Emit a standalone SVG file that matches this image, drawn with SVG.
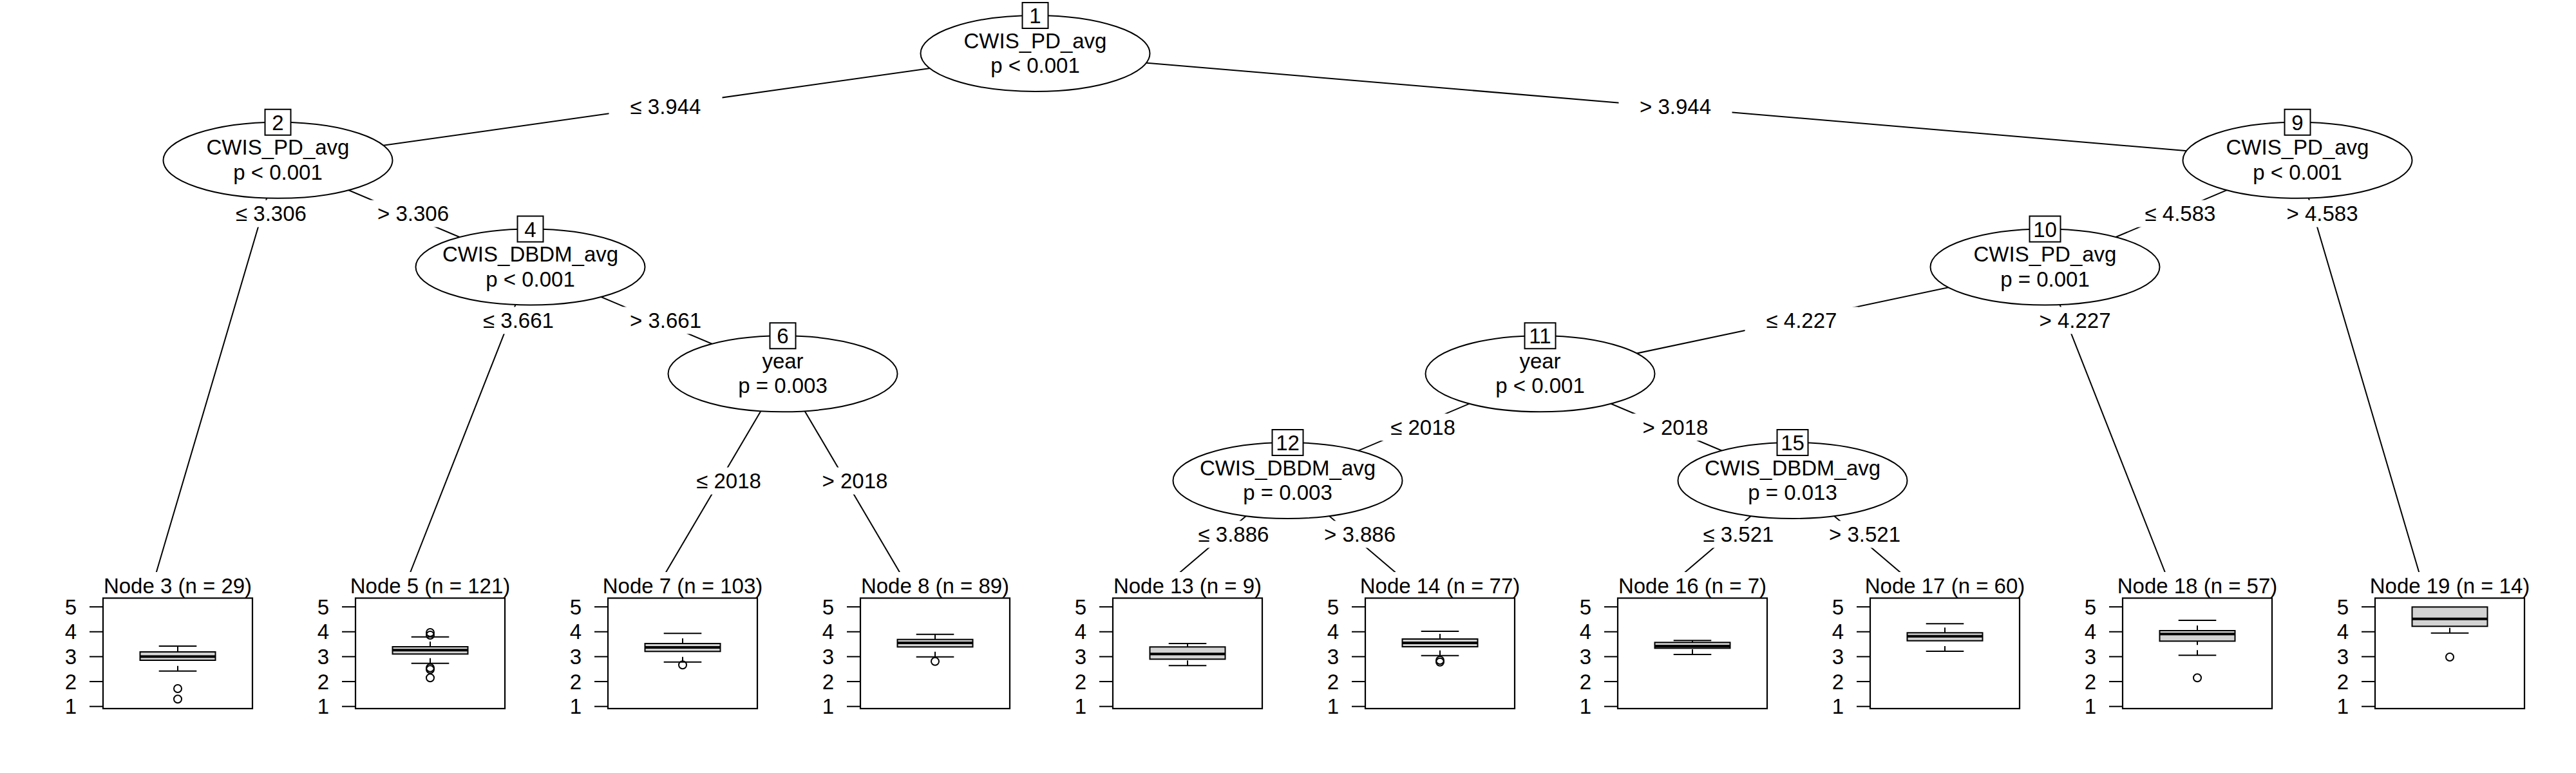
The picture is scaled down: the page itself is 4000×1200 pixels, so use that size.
<svg xmlns="http://www.w3.org/2000/svg" width="4000" height="1200" viewBox="0 0 4000 1200">
<style>
text{font-family:"Liberation Sans",Arial,Helvetica,sans-serif;font-size:33px;fill:#000}
.c{text-anchor:middle}
.r{text-anchor:end}
.edge{stroke:#000;stroke-width:2;fill:none}
.lab{fill:#fff;stroke:none}
.ell{fill:#fff;stroke:#000;stroke-width:2}
.idb{fill:#fff;stroke:#000;stroke-width:2}
.strip{fill:#fff;stroke:none}
.panel{fill:none;stroke:#000;stroke-width:2.2}
.tick{stroke:#000;stroke-width:2}
.wh{stroke:#000;stroke-width:2;stroke-dasharray:8 8}
.cap{stroke:#000;stroke-width:2}
.box{fill:#d3d3d3;stroke:#000;stroke-width:2}
.med{stroke:#000;stroke-width:4}
.out{fill:none;stroke:#000;stroke-width:2}
</style>
<rect x="0" y="0" width="4000" height="1200" fill="#fff"/>
<g id="connectors">
<line class="edge" x1="1607.5" y1="83" x2="431.5" y2="248.75"/>
<line class="edge" x1="1607.5" y1="83" x2="3567.5" y2="248.75"/>
<line class="edge" x1="431.5" y1="248.75" x2="235.5" y2="913"/>
<line class="edge" x1="431.5" y1="248.75" x2="823.5" y2="414.5"/>
<line class="edge" x1="823.5" y1="414.5" x2="627.5" y2="913"/>
<line class="edge" x1="823.5" y1="414.5" x2="1215.5" y2="580.25"/>
<line class="edge" x1="1215.5" y1="580.25" x2="1019.5" y2="913"/>
<line class="edge" x1="1215.5" y1="580.25" x2="1411.5" y2="913"/>
<line class="edge" x1="3567.5" y1="248.75" x2="3175.5" y2="414.5"/>
<line class="edge" x1="3567.5" y1="248.75" x2="3763.5" y2="913"/>
<line class="edge" x1="3175.5" y1="414.5" x2="2391.5" y2="580.25"/>
<line class="edge" x1="3175.5" y1="414.5" x2="3371.5" y2="913"/>
<line class="edge" x1="2391.5" y1="580.25" x2="1999.5" y2="746"/>
<line class="edge" x1="2391.5" y1="580.25" x2="2783.5" y2="746"/>
<line class="edge" x1="1999.5" y1="746" x2="1803.5" y2="913"/>
<line class="edge" x1="1999.5" y1="746" x2="2195.5" y2="913"/>
<line class="edge" x1="2783.5" y1="746" x2="2587.5" y2="913"/>
<line class="edge" x1="2783.5" y1="746" x2="2979.5" y2="913"/>
<g id="edge-labels">
<rect class="lab" x="945.5" y="145" width="176" height="42"/><text class="c" x="1033.5" y="177.4">≤ 3.944</text>
<rect class="lab" x="2513.5" y="145" width="176" height="42"/><text class="c" x="2601.5" y="177.4">&gt; 3.944</text>
<rect class="lab" x="333" y="310.6" width="176" height="42"/><text class="c" x="421" y="343.1">≤ 3.306</text>
<rect class="lab" x="553.5" y="310.6" width="176" height="42"/><text class="c" x="641.5" y="343.1">&gt; 3.306</text>
<rect class="lab" x="717" y="476.4" width="176" height="42"/><text class="c" x="805" y="508.9">≤ 3.661</text>
<rect class="lab" x="945.5" y="476.4" width="176" height="42"/><text class="c" x="1033.5" y="508.9">&gt; 3.661</text>
<rect class="lab" x="1047.5" y="725.6" width="168" height="42"/><text class="c" x="1131.5" y="758.1">≤ 2018</text>
<rect class="lab" x="1243.5" y="725.6" width="168" height="42"/><text class="c" x="1327.5" y="758.1">&gt; 2018</text>
<rect class="lab" x="3297.5" y="310.6" width="176" height="42"/><text class="c" x="3385.5" y="343.1">≤ 4.583</text>
<rect class="lab" x="3518" y="310.6" width="176" height="42"/><text class="c" x="3606" y="343.1">&gt; 4.583</text>
<rect class="lab" x="2709.5" y="476.4" width="176" height="42"/><text class="c" x="2797.5" y="508.9">≤ 4.227</text>
<rect class="lab" x="3134" y="476.4" width="176" height="42"/><text class="c" x="3222" y="508.9">&gt; 4.227</text>
<rect class="lab" x="2125.5" y="642.1" width="168" height="42"/><text class="c" x="2209.5" y="674.6">≤ 2018</text>
<rect class="lab" x="2517.5" y="642.1" width="168" height="42"/><text class="c" x="2601.5" y="674.6">&gt; 2018</text>
<rect class="lab" x="1827.5" y="808.5" width="176" height="42"/><text class="c" x="1915.5" y="841">≤ 3.886</text>
<rect class="lab" x="2023.5" y="808.5" width="176" height="42"/><text class="c" x="2111.5" y="841">&gt; 3.886</text>
<rect class="lab" x="2611.5" y="808.5" width="176" height="42"/><text class="c" x="2699.5" y="841">≤ 3.521</text>
<rect class="lab" x="2807.5" y="808.5" width="176" height="42"/><text class="c" x="2895.5" y="841">&gt; 3.521</text>
</g>
</g>
<g id="node1"><ellipse class="ell" cx="1607.5" cy="83" rx="178" ry="59"/><rect class="idb" x="1587.5" y="4" width="40" height="40"/><text class="c" x="1607.5" y="36">1</text><text class="c" x="1607.5" y="74.5">CWIS_PD_avg</text><text class="c" x="1607.5" y="113">p &lt; 0.001</text></g>
<g id="node2"><ellipse class="ell" cx="431.5" cy="248.75" rx="178" ry="59"/><rect class="idb" x="411.5" y="169.75" width="40" height="40"/><text class="c" x="431.5" y="201.75">2</text><text class="c" x="431.5" y="240.25">CWIS_PD_avg</text><text class="c" x="431.5" y="278.75">p &lt; 0.001</text></g>
<g id="node4"><ellipse class="ell" cx="823.5" cy="414.5" rx="178" ry="59"/><rect class="idb" x="803.5" y="335.5" width="40" height="40"/><text class="c" x="823.5" y="367.5">4</text><text class="c" x="823.5" y="406">CWIS_DBDM_avg</text><text class="c" x="823.5" y="444.5">p &lt; 0.001</text></g>
<g id="node6"><ellipse class="ell" cx="1215.5" cy="580.25" rx="178" ry="59"/><rect class="idb" x="1195.5" y="501.25" width="40" height="40"/><text class="c" x="1215.5" y="533.25">6</text><text class="c" x="1215.5" y="571.75">year</text><text class="c" x="1215.5" y="610.25">p = 0.003</text></g>
<g id="node9"><ellipse class="ell" cx="3567.5" cy="248.75" rx="178" ry="59"/><rect class="idb" x="3547.5" y="169.75" width="40" height="40"/><text class="c" x="3567.5" y="201.75">9</text><text class="c" x="3567.5" y="240.25">CWIS_PD_avg</text><text class="c" x="3567.5" y="278.75">p &lt; 0.001</text></g>
<g id="node10"><ellipse class="ell" cx="3175.5" cy="414.5" rx="178" ry="59"/><rect class="idb" x="3151.5" y="335.5" width="48" height="40"/><text class="c" x="3175.5" y="367.5">10</text><text class="c" x="3175.5" y="406">CWIS_PD_avg</text><text class="c" x="3175.5" y="444.5">p = 0.001</text></g>
<g id="node11"><ellipse class="ell" cx="2391.5" cy="580.25" rx="178" ry="59"/><rect class="idb" x="2367.5" y="501.25" width="48" height="40"/><text class="c" x="2391.5" y="533.25">11</text><text class="c" x="2391.5" y="571.75">year</text><text class="c" x="2391.5" y="610.25">p &lt; 0.001</text></g>
<g id="node12"><ellipse class="ell" cx="1999.5" cy="746" rx="178" ry="59"/><rect class="idb" x="1975.5" y="667" width="48" height="40"/><text class="c" x="1999.5" y="699">12</text><text class="c" x="1999.5" y="737.5">CWIS_DBDM_avg</text><text class="c" x="1999.5" y="776">p = 0.003</text></g>
<g id="node15"><ellipse class="ell" cx="2783.5" cy="746" rx="178" ry="59"/><rect class="idb" x="2759.5" y="667" width="48" height="40"/><text class="c" x="2783.5" y="699">15</text><text class="c" x="2783.5" y="737.5">CWIS_DBDM_avg</text><text class="c" x="2783.5" y="776">p = 0.013</text></g>

<g id="node3">
<rect class="strip" x="150" y="888" width="252" height="40"/>
<text class="c" x="276" y="920.7">Node 3 (n = 29)</text>
<line class="tick" x1="139" y1="1096.7" x2="160" y2="1096.7"/><line class="tick" x1="139" y1="1058.05" x2="160" y2="1058.05"/><line class="tick" x1="139" y1="1019.4" x2="160" y2="1019.4"/><line class="tick" x1="139" y1="980.75" x2="160" y2="980.75"/><line class="tick" x1="139" y1="942.1" x2="160" y2="942.1"/>
<text class="r" x="119" y="1108.4">1</text><text class="r" x="119" y="1069.75">2</text><text class="r" x="119" y="1031.1">3</text><text class="r" x="119" y="992.45">4</text><text class="r" x="119" y="953.8">5</text>
<rect class="panel" x="160" y="928.5" width="232" height="171.5"/>
<line class="wh" x1="276" y1="1012" x2="276" y2="1003"/><line class="wh" x1="276" y1="1041.7" x2="276" y2="1025"/>
<line class="cap" x1="246.7" y1="1003" x2="305.3" y2="1003"/><line class="cap" x1="246.7" y1="1041.7" x2="305.3" y2="1041.7"/>
<rect class="box" x="217.5" y="1012" width="117" height="13"/>
<line class="med" x1="217.5" y1="1019.3" x2="334.5" y2="1019.3"/>
<circle class="out" cx="276" cy="1069" r="6"/><circle class="out" cx="276" cy="1085.3" r="6"/>
</g>

<g id="node5">
<rect class="strip" x="542" y="888" width="252" height="40"/>
<text class="c" x="668" y="920.7">Node 5 (n = 121)</text>
<line class="tick" x1="531" y1="1096.7" x2="552" y2="1096.7"/><line class="tick" x1="531" y1="1058.05" x2="552" y2="1058.05"/><line class="tick" x1="531" y1="1019.4" x2="552" y2="1019.4"/><line class="tick" x1="531" y1="980.75" x2="552" y2="980.75"/><line class="tick" x1="531" y1="942.1" x2="552" y2="942.1"/>
<text class="r" x="511" y="1108.4">1</text><text class="r" x="511" y="1069.75">2</text><text class="r" x="511" y="1031.1">3</text><text class="r" x="511" y="992.45">4</text><text class="r" x="511" y="953.8">5</text>
<rect class="panel" x="552" y="928.5" width="232" height="171.5"/>
<line class="wh" x1="668" y1="1004" x2="668" y2="988.7"/><line class="wh" x1="668" y1="1029.7" x2="668" y2="1015.3"/>
<line class="cap" x1="638.7" y1="988.7" x2="697.3" y2="988.7"/><line class="cap" x1="638.7" y1="1029.7" x2="697.3" y2="1029.7"/>
<rect class="box" x="609.5" y="1004" width="117" height="11.3"/>
<line class="med" x1="609.5" y1="1009.3" x2="726.5" y2="1009.3"/>
<circle class="out" cx="668" cy="982" r="6"/><circle class="out" cx="668" cy="986" r="6"/><circle class="out" cx="668" cy="1036.7" r="6"/><circle class="out" cx="668" cy="1039.3" r="6"/><circle class="out" cx="668" cy="1052.3" r="6"/>
</g>

<g id="node7">
<rect class="strip" x="934" y="888" width="252" height="40"/>
<text class="c" x="1060" y="920.7">Node 7 (n = 103)</text>
<line class="tick" x1="923" y1="1096.7" x2="944" y2="1096.7"/><line class="tick" x1="923" y1="1058.05" x2="944" y2="1058.05"/><line class="tick" x1="923" y1="1019.4" x2="944" y2="1019.4"/><line class="tick" x1="923" y1="980.75" x2="944" y2="980.75"/><line class="tick" x1="923" y1="942.1" x2="944" y2="942.1"/>
<text class="r" x="903" y="1108.4">1</text><text class="r" x="903" y="1069.75">2</text><text class="r" x="903" y="1031.1">3</text><text class="r" x="903" y="992.45">4</text><text class="r" x="903" y="953.8">5</text>
<rect class="panel" x="944" y="928.5" width="232" height="171.5"/>
<line class="wh" x1="1060" y1="999" x2="1060" y2="983.3"/><line class="wh" x1="1060" y1="1027.7" x2="1060" y2="1011.3"/>
<line class="cap" x1="1030.7" y1="983.3" x2="1089.3" y2="983.3"/><line class="cap" x1="1030.7" y1="1027.7" x2="1089.3" y2="1027.7"/>
<rect class="box" x="1001.5" y="999" width="117" height="12.3"/>
<line class="med" x1="1001.5" y1="1005" x2="1118.5" y2="1005"/>
<circle class="out" cx="1060" cy="1032.3" r="6"/>
</g>

<g id="node8">
<rect class="strip" x="1326" y="888" width="252" height="40"/>
<text class="c" x="1452" y="920.7">Node 8 (n = 89)</text>
<line class="tick" x1="1315" y1="1096.7" x2="1336" y2="1096.7"/><line class="tick" x1="1315" y1="1058.05" x2="1336" y2="1058.05"/><line class="tick" x1="1315" y1="1019.4" x2="1336" y2="1019.4"/><line class="tick" x1="1315" y1="980.75" x2="1336" y2="980.75"/><line class="tick" x1="1315" y1="942.1" x2="1336" y2="942.1"/>
<text class="r" x="1295" y="1108.4">1</text><text class="r" x="1295" y="1069.75">2</text><text class="r" x="1295" y="1031.1">3</text><text class="r" x="1295" y="992.45">4</text><text class="r" x="1295" y="953.8">5</text>
<rect class="panel" x="1336" y="928.5" width="232" height="171.5"/>
<line class="wh" x1="1452" y1="992.7" x2="1452" y2="984.7"/><line class="wh" x1="1452" y1="1019.7" x2="1452" y2="1004.3"/>
<line class="cap" x1="1422.7" y1="984.7" x2="1481.3" y2="984.7"/><line class="cap" x1="1422.7" y1="1019.7" x2="1481.3" y2="1019.7"/>
<rect class="box" x="1393.5" y="992.7" width="117" height="11.6"/>
<line class="med" x1="1393.5" y1="998" x2="1510.5" y2="998"/>
<circle class="out" cx="1452" cy="1026.7" r="6"/>
</g>

<g id="node13">
<rect class="strip" x="1718" y="888" width="252" height="40"/>
<text class="c" x="1844" y="920.7">Node 13 (n = 9)</text>
<line class="tick" x1="1707" y1="1096.7" x2="1728" y2="1096.7"/><line class="tick" x1="1707" y1="1058.05" x2="1728" y2="1058.05"/><line class="tick" x1="1707" y1="1019.4" x2="1728" y2="1019.4"/><line class="tick" x1="1707" y1="980.75" x2="1728" y2="980.75"/><line class="tick" x1="1707" y1="942.1" x2="1728" y2="942.1"/>
<text class="r" x="1687" y="1108.4">1</text><text class="r" x="1687" y="1069.75">2</text><text class="r" x="1687" y="1031.1">3</text><text class="r" x="1687" y="992.45">4</text><text class="r" x="1687" y="953.8">5</text>
<rect class="panel" x="1728" y="928.5" width="232" height="171.5"/>
<line class="wh" x1="1844" y1="1004.3" x2="1844" y2="999"/><line class="wh" x1="1844" y1="1033.3" x2="1844" y2="1023.3"/>
<line class="cap" x1="1814.7" y1="999" x2="1873.3" y2="999"/><line class="cap" x1="1814.7" y1="1033.3" x2="1873.3" y2="1033.3"/>
<rect class="box" x="1785.5" y="1004.3" width="117" height="19"/>
<line class="med" x1="1785.5" y1="1015.3" x2="1902.5" y2="1015.3"/>
</g>

<g id="node14">
<rect class="strip" x="2110" y="888" width="252" height="40"/>
<text class="c" x="2236" y="920.7">Node 14 (n = 77)</text>
<line class="tick" x1="2099" y1="1096.7" x2="2120" y2="1096.7"/><line class="tick" x1="2099" y1="1058.05" x2="2120" y2="1058.05"/><line class="tick" x1="2099" y1="1019.4" x2="2120" y2="1019.4"/><line class="tick" x1="2099" y1="980.75" x2="2120" y2="980.75"/><line class="tick" x1="2099" y1="942.1" x2="2120" y2="942.1"/>
<text class="r" x="2079" y="1108.4">1</text><text class="r" x="2079" y="1069.75">2</text><text class="r" x="2079" y="1031.1">3</text><text class="r" x="2079" y="992.45">4</text><text class="r" x="2079" y="953.8">5</text>
<rect class="panel" x="2120" y="928.5" width="232" height="171.5"/>
<line class="wh" x1="2236" y1="992" x2="2236" y2="980"/><line class="wh" x1="2236" y1="1017.7" x2="2236" y2="1004"/>
<line class="cap" x1="2206.7" y1="980" x2="2265.3" y2="980"/><line class="cap" x1="2206.7" y1="1017.7" x2="2265.3" y2="1017.7"/>
<rect class="box" x="2177.5" y="992" width="117" height="12"/>
<line class="med" x1="2177.5" y1="998" x2="2294.5" y2="998"/>
<circle class="out" cx="2236" cy="1025" r="6"/><circle class="out" cx="2236" cy="1027.7" r="6"/>
</g>

<g id="node16">
<rect class="strip" x="2502" y="888" width="252" height="40"/>
<text class="c" x="2628" y="920.7">Node 16 (n = 7)</text>
<line class="tick" x1="2491" y1="1096.7" x2="2512" y2="1096.7"/><line class="tick" x1="2491" y1="1058.05" x2="2512" y2="1058.05"/><line class="tick" x1="2491" y1="1019.4" x2="2512" y2="1019.4"/><line class="tick" x1="2491" y1="980.75" x2="2512" y2="980.75"/><line class="tick" x1="2491" y1="942.1" x2="2512" y2="942.1"/>
<text class="r" x="2471" y="1108.4">1</text><text class="r" x="2471" y="1069.75">2</text><text class="r" x="2471" y="1031.1">3</text><text class="r" x="2471" y="992.45">4</text><text class="r" x="2471" y="953.8">5</text>
<rect class="panel" x="2512" y="928.5" width="232" height="171.5"/>
<line class="wh" x1="2628" y1="997.3" x2="2628" y2="994.3"/><line class="wh" x1="2628" y1="1016" x2="2628" y2="1006.3"/>
<line class="cap" x1="2598.7" y1="994.3" x2="2657.3" y2="994.3"/><line class="cap" x1="2598.7" y1="1016" x2="2657.3" y2="1016"/>
<rect class="box" x="2569.5" y="997.3" width="117" height="9"/>
<line class="med" x1="2569.5" y1="1003" x2="2686.5" y2="1003"/>
</g>

<g id="node17">
<rect class="strip" x="2894" y="888" width="252" height="40"/>
<text class="c" x="3020" y="920.7">Node 17 (n = 60)</text>
<line class="tick" x1="2883" y1="1096.7" x2="2904" y2="1096.7"/><line class="tick" x1="2883" y1="1058.05" x2="2904" y2="1058.05"/><line class="tick" x1="2883" y1="1019.4" x2="2904" y2="1019.4"/><line class="tick" x1="2883" y1="980.75" x2="2904" y2="980.75"/><line class="tick" x1="2883" y1="942.1" x2="2904" y2="942.1"/>
<text class="r" x="2863" y="1108.4">1</text><text class="r" x="2863" y="1069.75">2</text><text class="r" x="2863" y="1031.1">3</text><text class="r" x="2863" y="992.45">4</text><text class="r" x="2863" y="953.8">5</text>
<rect class="panel" x="2904" y="928.5" width="232" height="171.5"/>
<line class="wh" x1="3020" y1="982.3" x2="3020" y2="968.3"/><line class="wh" x1="3020" y1="1011" x2="3020" y2="994.7"/>
<line class="cap" x1="2990.7" y1="968.3" x2="3049.3" y2="968.3"/><line class="cap" x1="2990.7" y1="1011" x2="3049.3" y2="1011"/>
<rect class="box" x="2961.5" y="982.3" width="117" height="12.4"/>
<line class="med" x1="2961.5" y1="987.7" x2="3078.5" y2="987.7"/>
</g>

<g id="node18">
<rect class="strip" x="3286" y="888" width="252" height="40"/>
<text class="c" x="3412" y="920.7">Node 18 (n = 57)</text>
<line class="tick" x1="3275" y1="1096.7" x2="3296" y2="1096.7"/><line class="tick" x1="3275" y1="1058.05" x2="3296" y2="1058.05"/><line class="tick" x1="3275" y1="1019.4" x2="3296" y2="1019.4"/><line class="tick" x1="3275" y1="980.75" x2="3296" y2="980.75"/><line class="tick" x1="3275" y1="942.1" x2="3296" y2="942.1"/>
<text class="r" x="3255" y="1108.4">1</text><text class="r" x="3255" y="1069.75">2</text><text class="r" x="3255" y="1031.1">3</text><text class="r" x="3255" y="992.45">4</text><text class="r" x="3255" y="953.8">5</text>
<rect class="panel" x="3296" y="928.5" width="232" height="171.5"/>
<line class="wh" x1="3412" y1="979" x2="3412" y2="963"/><line class="wh" x1="3412" y1="1017.3" x2="3412" y2="995.3"/>
<line class="cap" x1="3382.7" y1="963" x2="3441.3" y2="963"/><line class="cap" x1="3382.7" y1="1017.3" x2="3441.3" y2="1017.3"/>
<rect class="box" x="3353.5" y="979" width="117" height="16.3"/>
<line class="med" x1="3353.5" y1="984.3" x2="3470.5" y2="984.3"/>
<circle class="out" cx="3412" cy="1052.3" r="6"/>
</g>

<g id="node19">
<rect class="strip" x="3678" y="888" width="252" height="40"/>
<text class="c" x="3804" y="920.7">Node 19 (n = 14)</text>
<line class="tick" x1="3667" y1="1096.7" x2="3688" y2="1096.7"/><line class="tick" x1="3667" y1="1058.05" x2="3688" y2="1058.05"/><line class="tick" x1="3667" y1="1019.4" x2="3688" y2="1019.4"/><line class="tick" x1="3667" y1="980.75" x2="3688" y2="980.75"/><line class="tick" x1="3667" y1="942.1" x2="3688" y2="942.1"/>
<text class="r" x="3647" y="1108.4">1</text><text class="r" x="3647" y="1069.75">2</text><text class="r" x="3647" y="1031.1">3</text><text class="r" x="3647" y="992.45">4</text><text class="r" x="3647" y="953.8">5</text>
<rect class="panel" x="3688" y="928.5" width="232" height="171.5"/>
<line class="wh" x1="3804" y1="982.7" x2="3804" y2="972.3"/>
<line class="cap" x1="3774.7" y1="982.7" x2="3833.3" y2="982.7"/>
<rect class="box" x="3745.5" y="942.3" width="117" height="30"/>
<line class="med" x1="3745.5" y1="960.7" x2="3862.5" y2="960.7"/>
<circle class="out" cx="3804" cy="1020" r="6"/>
</g>
</svg>
